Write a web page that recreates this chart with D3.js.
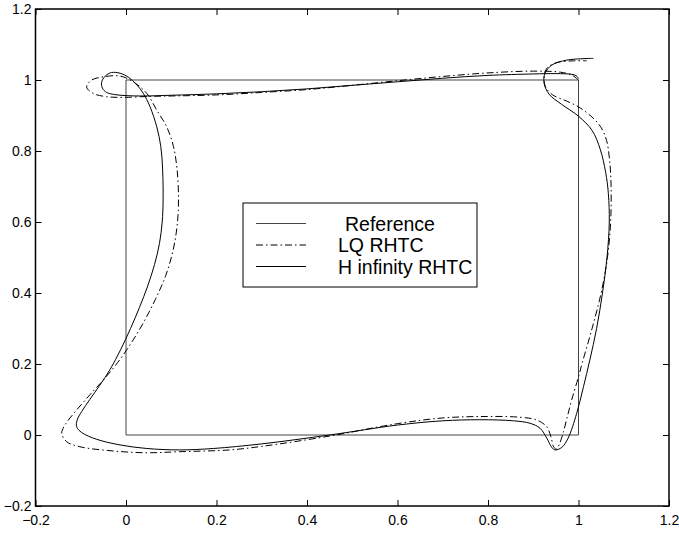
<!DOCTYPE html>
<html lang="en">
<head>
  <meta charset="UTF-8">
  <script src="https://d3js.org/d3.v7.min.js"></script>
  <title></title>
  <style>
    body { margin: 0; background: #fff; }
    text { font-family: 'Liberation Sans', Arial, Helvetica, sans-serif; }
  </style>
</head>
<body>
  <script>
  var margin = {top: 9, right: 10, bottom: 27, left: 35.5},
    width = 679 - margin.left - margin.right,
    height = 533 - margin.top - margin.bottom;

  // tick values + labels (same on both axes)
  var tickValues = [-0.2, 0, 0.2, 0.4, 0.6, 0.8, 1, 1.2];
  var tickLabels = ['\u22120.2', '0', '0.2', '0.4', '0.6', '0.8', '1', '1.2'];

  // reference square
  var refPath = [[0, 0], [1, 0], [1, 1], [0, 1], [0, 0]];

  // LQ RHTC trajectory (dash-dot)
  var lqPath = [
    [1.000, 1.000], [0.985, 1.014], [0.960, 1.022], [0.900, 1.025], [0.800, 1.020],
    [0.700, 1.010], [0.600, 0.998], [0.500, 0.985], [0.400, 0.973], [0.300, 0.965],
    [0.200, 0.958], [0.100, 0.955], [0.053, 0.954], [-0.006, 0.951], [-0.043, 0.953],
    [-0.072, 0.962], [-0.087, 0.980], [-0.077, 0.999], [-0.050, 1.009], [-0.013, 1.011],
    [0.016, 0.995], [0.046, 0.962], [0.068, 0.915], [0.090, 0.868], [0.105, 0.812],
    [0.113, 0.746], [0.116, 0.662], [0.113, 0.590], [0.104, 0.520], [0.088, 0.450],
    [0.066, 0.385], [0.040, 0.320], [0.012, 0.260], [-0.018, 0.205], [-0.048, 0.158],
    [-0.080, 0.113], [-0.112, 0.066], [-0.135, 0.028], [-0.142, 0.005], [-0.131, -0.019],
    [-0.102, -0.033], [-0.028, -0.045], [0.046, -0.050], [0.119, -0.047], [0.230, -0.042],
    [0.300, -0.032], [0.450, -0.003], [0.600, 0.032], [0.700, 0.048], [0.782, 0.052],
    [0.871, 0.050], [0.908, 0.042], [0.930, 0.023], [0.939, -0.005], [0.945, -0.033],
    [0.951, -0.040], [0.958, -0.025], [0.967, 0.010], [0.975, 0.050], [0.985, 0.099],
    [1.000, 0.164], [1.008, 0.202], [1.030, 0.300], [1.050, 0.400], [1.064, 0.500],
    [1.071, 0.600], [1.072, 0.700], [1.069, 0.770], [1.062, 0.830], [1.050, 0.866],
    [1.032, 0.893], [1.003, 0.922], [0.975, 0.940], [0.943, 0.958], [0.927, 0.981],
    [0.924, 1.009], [0.930, 1.033], [0.952, 1.049], [0.989, 1.054], [1.018, 1.054]
  ];

  // H infinity RHTC trajectory (solid)
  var hinfPath = [
    [1.000, 1.004], [0.995, 1.012], [0.985, 1.016], [0.950, 1.018], [0.900, 1.017],
    [0.800, 1.013], [0.700, 1.005], [0.600, 0.995], [0.500, 0.985], [0.400, 0.975],
    [0.300, 0.967], [0.200, 0.961], [0.100, 0.957], [0.040, 0.955], [0.000, 0.956],
    [-0.025, 0.959], [-0.043, 0.965], [-0.052, 0.977], [-0.054, 0.993], [-0.046, 1.011],
    [-0.032, 1.021], [-0.013, 1.019], [0.005, 1.008], [0.024, 0.986], [0.038, 0.963],
    [0.053, 0.925], [0.068, 0.868], [0.077, 0.812], [0.081, 0.746], [0.082, 0.662],
    [0.080, 0.600], [0.074, 0.540], [0.063, 0.480], [0.048, 0.420], [0.030, 0.360],
    [0.010, 0.300], [-0.012, 0.240], [-0.035, 0.185], [-0.058, 0.140], [-0.080, 0.100],
    [-0.098, 0.066], [-0.108, 0.042], [-0.109, 0.023], [-0.098, 0.007], [-0.065, -0.012],
    [-0.013, -0.028], [0.046, -0.038], [0.119, -0.042], [0.193, -0.038], [0.300, -0.025],
    [0.450, 0.000], [0.600, 0.028], [0.700, 0.040], [0.782, 0.043], [0.856, 0.040],
    [0.893, 0.033], [0.915, 0.019], [0.930, -0.009], [0.941, -0.035], [0.948, -0.042],
    [0.963, -0.035], [0.977, -0.009], [0.996, 0.061], [1.011, 0.136], [1.025, 0.211],
    [1.040, 0.300], [1.053, 0.400], [1.063, 0.500], [1.068, 0.600], [1.066, 0.680],
    [1.060, 0.740], [1.048, 0.805], [1.030, 0.858], [1.000, 0.898], [0.962, 0.932],
    [0.935, 0.960], [0.924, 0.991], [0.926, 1.019], [0.941, 1.042], [0.974, 1.056],
    [1.033, 1.061]
  ];

  var legendNames = ['Reference', 'LQ RHTC', 'H infinity RHTC'];

  var svg = d3.select('body')
    .append('svg')
    .attr('width', width + margin.left + margin.right)
    .attr('height', height + margin.top + margin.bottom)
    .append('g')
    .attr('transform', 'translate(' + margin.left + ',' + margin.top + ')');

  var x = d3.scaleLinear().domain([-0.2, 1.2]).range([0, width]);
  var y = d3.scaleLinear().domain([-0.2, 1.2]).range([height, 0]);

  function fmt(d, i) { return tickLabels[i]; }

  // axes, ticks pointing inward
  var gx = svg.append('g')
    .attr('transform', 'translate(0,' + height + ')')
    .call(d3.axisBottom(x).tickValues(tickValues).tickFormat(fmt)
      .tickSizeInner(-6).tickSizeOuter(0).tickPadding(9));
  var gy = svg.append('g')
    .call(d3.axisLeft(y).tickValues(tickValues).tickFormat(fmt)
      .tickSizeInner(-6).tickSizeOuter(0).tickPadding(4));
  var gt = svg.append('g')
    .call(d3.axisTop(x).tickValues(tickValues).tickFormat('')
      .tickSizeInner(-6).tickSizeOuter(0));
  var gr = svg.append('g')
    .attr('transform', 'translate(' + width + ',0)')
    .call(d3.axisRight(y).tickValues(tickValues).tickFormat('')
      .tickSizeInner(-6).tickSizeOuter(0));

  [gx, gy, gt, gr].forEach(function(g) {
    g.select('.domain').remove();
    g.selectAll('line').attr('stroke', '#000').attr('stroke-width', 1);
    g.selectAll('text').attr('fill', '#000').style('font-size', '14px')
      .style('font-family', "'Liberation Sans', Arial, Helvetica, sans-serif");
  });

  var line = d3.line()
    .x(function(d) { return x(d[0]); })
    .y(function(d) { return y(d[1]); });
  var smooth = d3.line()
    .x(function(d) { return x(d[0]); })
    .y(function(d) { return y(d[1]); })
    .curve(d3.curveCatmullRom.alpha(0.5));

  svg.append('path')
    .datum(refPath)
    .attr('d', line)
    .attr('fill', 'none')
    .attr('stroke', '#444')
    .attr('stroke-width', 1);

  svg.append('path')
    .datum(lqPath)
    .attr('d', smooth)
    .attr('fill', 'none')
    .attr('stroke', '#000')
    .attr('stroke-width', 1)
    .attr('stroke-dasharray', '7,3,1.5,3');

  svg.append('path')
    .datum(hinfPath)
    .attr('d', smooth)
    .attr('fill', 'none')
    .attr('stroke', '#000')
    .attr('stroke-width', 1);

  // box
  svg.append('rect')
    .attr('x', 0).attr('y', 0)
    .attr('width', width).attr('height', height)
    .attr('fill', 'none')
    .attr('stroke', '#000')
    .attr('stroke-width', 1.5);

  // legend
  var lg = svg.append('g')
    .attr('transform', 'translate(' + (243 - margin.left) + ',' + (203 - margin.top) + ')');
  lg.append('rect')
    .attr('width', 234).attr('height', 84)
    .attr('fill', '#fff')
    .attr('stroke', '#000')
    .attr('stroke-width', 1);
  var dashes = [null, '7,3,1.5,3', null];
  var textX = [102, 95, 95];
  legendNames.forEach(function(name, i) {
    var ly = 20.5 + i * 21.5;
    lg.append('line')
      .attr('x1', 13).attr('x2', 63)
      .attr('y1', ly).attr('y2', ly)
      .attr('stroke', i === 0 ? '#444' : '#000')
      .attr('stroke-width', 1)
      .attr('stroke-dasharray', dashes[i]);
    lg.append('text')
      .attr('x', textX[i])
      .attr('y', ly + 7)
      .style('font-size', '19.5px')
      .text(name);
  });
  </script>
</body>
</html>
